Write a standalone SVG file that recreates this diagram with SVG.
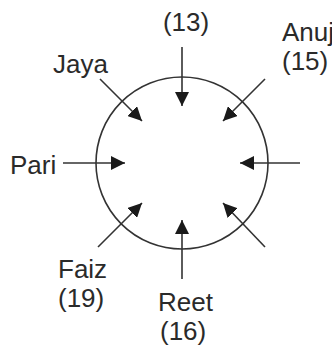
<svg xmlns="http://www.w3.org/2000/svg" width="332" height="348" viewBox="0 0 332 348">
<defs>
<marker id="ah" viewBox="0 0 10 10" refX="10" refY="5" markerWidth="9" markerHeight="9" markerUnits="userSpaceOnUse" orient="auto">
<path d="M0,0 L10,5 L0,10 Z" fill="#1a1a1a"/>
</marker>
<marker id="ah2" viewBox="0 0 10 10" refX="10" refY="5" markerWidth="14" markerHeight="14" markerUnits="userSpaceOnUse" orient="auto">
<path d="M0,0 L10,5 L0,10 Z" fill="#1a1a1a"/>
</marker>
</defs>
<style>
.t{font-family:"Liberation Sans",Arial,sans-serif;font-size:26px;fill:#2a2a2a}
.c{stroke:#333;stroke-width:1.6;fill:none;marker-end:url(#ah2)}
</style>
<rect width="332" height="348" fill="#fff"/>
<g id="table"><circle cx="182" cy="163" r="86" fill="none" stroke="#333" stroke-width="1.6"/></g>
<g id="connectors">
<line class="c" x1="182" y1="47" x2="182" y2="106"/>
<line class="c" x1="100" y1="79" x2="142" y2="121"/>
<line class="c" x1="265" y1="79" x2="223" y2="121"/>
<line class="c" x1="63" y1="163" x2="125" y2="163"/>
<line class="c" x1="300" y1="163" x2="240" y2="163"/>
<line class="c" x1="98" y1="247" x2="142" y2="203"/>
<line class="c" x1="265" y1="247" x2="223" y2="203"/>
<line class="c" x1="182" y1="279" x2="182" y2="220"/>
</g>
<g id="n13"><text class="t" x="186" y="31" text-anchor="middle">(13)</text></g>
<g id="jaya"><text class="t" x="53" y="73">Jaya</text></g>
<g id="anuj"><text class="t" x="282" y="41">Anuj</text><text class="t" x="282" y="70">(15)</text></g>
<g id="pari"><text class="t" x="10" y="174">Pari</text></g>
<g id="faiz"><text class="t" x="58" y="278">Faiz</text><text class="t" x="58" y="307">(19)</text></g>
<g id="reet"><text class="t" x="158" y="311">Reet</text><text class="t" x="160" y="340">(16)</text></g>
</svg>
